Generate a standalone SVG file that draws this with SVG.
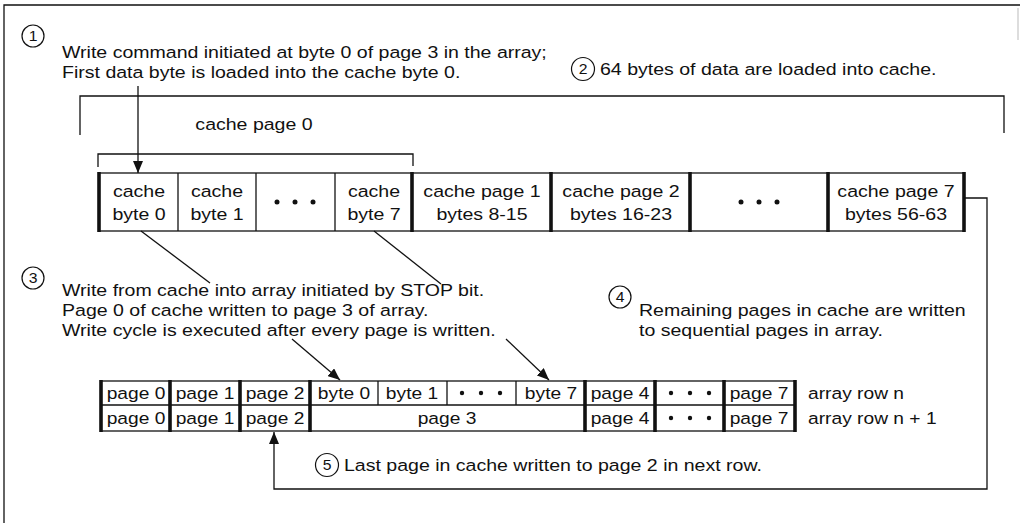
<svg xmlns="http://www.w3.org/2000/svg" width="1020" height="523" viewBox="0 0 1020 523">
<defs>
<marker id="ah" viewBox="0 0 12 10" refX="12" refY="5" markerWidth="12" markerHeight="10" markerUnits="userSpaceOnUse" orient="auto">
<path d="M0,0 L12,5 L0,10 Z" fill="#111"/>
</marker>
</defs>
<style>
text{font-family:"Liberation Sans",Arial,sans-serif;font-size:17px;fill:#111}
.m{text-anchor:middle}
.n{font-size:15px;text-anchor:middle}
.ln{fill:none;stroke:#111;stroke-width:1.3}
.cell{fill:#fff;stroke:#111;stroke-width:1.3}
.thk{stroke:#111;stroke-width:3.6}
.num{fill:none;stroke:#111;stroke-width:1.2}
.dot{fill:#111}
</style>
<rect width="1020" height="523" fill="#fff"/>
<g id="frame">
<path class="ln" d="M4,523 V5 H1020"/>
<path d="M1018,8 V40" stroke="#bbb" stroke-width="1"/>
</g>
<g id="note1">
<circle class="num" cx="33" cy="36" r="11"/>
<text class="n" transform="translate(33 41) scale(1.05 1)">1</text>
<text transform="translate(62 58) scale(1.15 1)">Write command initiated at byte 0 of page 3 in the array;</text>
<text transform="translate(62 78) scale(1.15 1)">First data byte is loaded into the cache byte 0.</text>
</g>
<g id="note2">
<circle class="num" cx="583" cy="69" r="11.5"/>
<text class="n" transform="translate(583 74) scale(1.05 1)">2</text>
<text transform="translate(600 75) scale(1.15 1)">64 bytes of data are loaded into cache.</text>
</g>
<g id="bracket64">
<path class="ln" d="M80,135 V96 H1004 V133"/>
</g>
<g id="bracketPage0">
<path class="ln" d="M98,167 V154 H413 V166"/>
<text class="m" transform="translate(254 130) scale(1.15 1)">cache page 0</text>
</g>
<g id="cacheRow">
<rect class="cell" x="99" y="173" width="865" height="58"/>
<line class="ln" x1="178" y1="173" x2="178" y2="231"/>
<line class="ln" x1="256" y1="173" x2="256" y2="231"/>
<line class="ln" x1="335" y1="173" x2="335" y2="231"/>
<line class="thk" x1="99" y1="172" x2="99" y2="232"/>
<line class="thk" x1="412" y1="172" x2="412" y2="232"/>
<line class="thk" x1="551" y1="172" x2="551" y2="232"/>
<line class="thk" x1="690" y1="172" x2="690" y2="232"/>
<line class="thk" x1="828" y1="172" x2="828" y2="232"/>
<line class="thk" x1="964" y1="172" x2="964" y2="232"/>
<g id="cbyte0"><text class="m" transform="translate(139 197) scale(1.15 1)">cache</text><text class="m" transform="translate(139 220) scale(1.15 1)">byte 0</text></g>
<g id="cbyte1"><text class="m" transform="translate(217 197) scale(1.15 1)">cache</text><text class="m" transform="translate(217 220) scale(1.15 1)">byte 1</text></g>
<g id="cdots1"><circle class="dot" cx="277" cy="202" r="2.5"/><circle class="dot" cx="295" cy="202" r="2.5"/><circle class="dot" cx="313" cy="202" r="2.5"/></g>
<g id="cbyte7"><text class="m" transform="translate(374 197) scale(1.15 1)">cache</text><text class="m" transform="translate(374 220) scale(1.15 1)">byte 7</text></g>
<g id="cpage1"><text class="m" transform="translate(482 197) scale(1.15 1)">cache page 1</text><text class="m" transform="translate(482 220) scale(1.15 1)">bytes 8-15</text></g>
<g id="cpage2"><text class="m" transform="translate(621 197) scale(1.15 1)">cache page 2</text><text class="m" transform="translate(621 220) scale(1.15 1)">bytes 16-23</text></g>
<g id="cdots2"><circle class="dot" cx="741" cy="202" r="2.5"/><circle class="dot" cx="759" cy="202" r="2.5"/><circle class="dot" cx="777" cy="202" r="2.5"/></g>
<g id="cpage7"><text class="m" transform="translate(896 197) scale(1.15 1)">cache page 7</text><text class="m" transform="translate(896 220) scale(1.15 1)">bytes 56-63</text></g>
</g>
<g id="note3">
<circle class="num" cx="33" cy="278" r="11"/>
<text class="n" transform="translate(33 283) scale(1.05 1)">3</text>
<text transform="translate(62 296) scale(1.15 1)">Write from cache into array initiated by STOP bit.</text>
<text transform="translate(62 316) scale(1.15 1)">Page 0 of cache written to page 3 of array.</text>
<text transform="translate(62 336) scale(1.15 1)">Write cycle is executed after every page is written.</text>
</g>
<g id="note4">
<circle class="num" cx="620" cy="297" r="11"/>
<text class="n" transform="translate(620 302) scale(1.05 1)">4</text>
<text transform="translate(639 316) scale(1.15 1)">Remaining pages in cache are written</text>
<text transform="translate(639 336) scale(1.15 1)">to sequential pages in array.</text>
</g>
<g id="arrayRows">
<rect class="cell" x="101" y="381" width="694" height="50"/>
<line class="ln" x1="101" y1="405" x2="795" y2="405"/>
<line class="ln" x1="378" y1="381" x2="378" y2="405"/>
<line class="ln" x1="447" y1="381" x2="447" y2="405"/>
<line class="ln" x1="516" y1="381" x2="516" y2="405"/>
<line class="thk" x1="101" y1="380" x2="101" y2="432"/>
<line class="thk" x1="170" y1="380" x2="170" y2="432"/>
<line class="thk" x1="240" y1="380" x2="240" y2="432"/>
<line class="thk" x1="310" y1="380" x2="310" y2="432"/>
<line class="thk" x1="585" y1="380" x2="585" y2="432"/>
<line class="thk" x1="655" y1="380" x2="655" y2="432"/>
<line class="thk" x1="724" y1="380" x2="724" y2="432"/>
<line class="thk" x1="795" y1="380" x2="795" y2="432"/>
<g id="rowN">
<text class="m" transform="translate(136 399) scale(1.13 1)">page 0</text>
<text class="m" transform="translate(205 399) scale(1.13 1)">page 1</text>
<text class="m" transform="translate(275 399) scale(1.13 1)">page 2</text>
<text class="m" transform="translate(344 399) scale(1.13 1)">byte 0</text>
<text class="m" transform="translate(412 399) scale(1.13 1)">byte 1</text>
<circle class="dot" cx="462" cy="393" r="2.2"/><circle class="dot" cx="481" cy="393" r="2.2"/><circle class="dot" cx="500" cy="393" r="2.2"/>
<text class="m" transform="translate(551 399) scale(1.13 1)">byte 7</text>
<text class="m" transform="translate(620 399) scale(1.13 1)">page 4</text>
<circle class="dot" cx="671" cy="393" r="2.2"/><circle class="dot" cx="690" cy="393" r="2.2"/><circle class="dot" cx="709" cy="393" r="2.2"/>
<text class="m" transform="translate(759 399) scale(1.13 1)">page 7</text>
<text transform="translate(808 399) scale(1.13 1)">array row n</text>
</g>
<g id="rowN1">
<text class="m" transform="translate(136 424) scale(1.13 1)">page 0</text>
<text class="m" transform="translate(205 424) scale(1.13 1)">page 1</text>
<text class="m" transform="translate(275 424) scale(1.13 1)">page 2</text>
<text class="m" transform="translate(447 424) scale(1.13 1)">page 3</text>
<text class="m" transform="translate(620 424) scale(1.13 1)">page 4</text>
<circle class="dot" cx="671" cy="418" r="2.2"/><circle class="dot" cx="690" cy="418" r="2.2"/><circle class="dot" cx="709" cy="418" r="2.2"/>
<text class="m" transform="translate(759 424) scale(1.13 1)">page 7</text>
<text transform="translate(808 424) scale(1.13 1)">array row n + 1</text>
</g>
</g>
<g id="note5">
<circle class="num" cx="327" cy="465" r="11.5"/>
<text class="n" transform="translate(327 470) scale(1.05 1)">5</text>
<text transform="translate(344 471) scale(1.15 1)">Last page in cache written to page 2 in next row.</text>
</g>
<g id="connectors">
<line class="ln" x1="138" y1="86" x2="138" y2="173" marker-end="url(#ah)"/>
<line class="ln" x1="141" y1="231" x2="210" y2="283"/>
<line class="ln" x1="374" y1="231" x2="441" y2="284"/>
<line class="ln" x1="292" y1="339" x2="340" y2="380" marker-end="url(#ah)"/>
<line class="ln" x1="506" y1="339" x2="549" y2="380" marker-end="url(#ah)"/>
<path class="ln" d="M964,198 H987 V489 H274 V432" marker-end="url(#ah)"/>
</g>
</svg>
